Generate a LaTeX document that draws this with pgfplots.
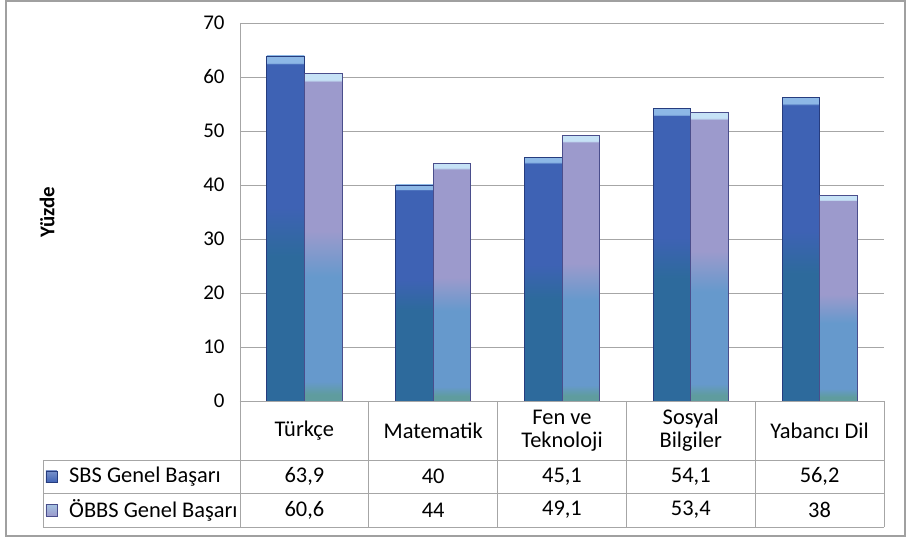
\documentclass[border=0pt]{standalone}
\usepackage{pgfplots}
\pgfplotsset{compat=1.18}
\usepackage{fontspec}
\setmainfont{Carlito}
\definecolor{gridc}{HTML}{A6A6A6}
\definecolor{framec}{HTML}{A0A0A0}
\definecolor{sbstop}{HTML}{3E62B4}
\definecolor{sbsbot}{HTML}{2D6A9C}
\definecolor{sbslight}{HTML}{8DB8E6}
\definecolor{sbsedge}{HTML}{263C7E}
\definecolor{obtop}{HTML}{9C9ACC}
\definecolor{obbot}{HTML}{6699CC}
\definecolor{obteal}{HTML}{5F9C9E}
\definecolor{oblight}{HTML}{C6E2F6}
\definecolor{obedge}{HTML}{4A4E8C}
\pgfdeclareverticalshading{sbsshade}{100bp}{color(0bp)=(sbsbot); color(25bp)=(sbsbot); color(46bp)=(sbsbot); color(53bp)=(sbstop); color(73.8bp)=(sbstop); color(74bp)=(sbslight); color(75bp)=(sbslight); color(100bp)=(sbslight)}
\pgfdeclareverticalshading{obshade}{100bp}{color(0bp)=(obteal); color(25bp)=(obteal); color(26bp)=(obteal); color(28bp)=(obbot); color(44bp)=(obbot); color(51bp)=(obtop); color(73.8bp)=(obtop); color(74bp)=(oblight); color(75bp)=(oblight); color(100bp)=(oblight)}
\pgfplotsset{
  sbsbar/.style={ybar, bar width=37.5bp, bar shift=-18.75bp, draw=sbsedge, line width=0.8bp, shading=sbsshade},
  obbar/.style={ybar, bar width=37.5bp, bar shift=18.75bp, draw=obedge, line width=0.8bp, shading=obshade},
}
\begin{document}
\begin{tikzpicture}
\begin{axis}[
  scale only axis, width=644bp, height=378bp,
  xmin=-0.5, xmax=4.5, ymin=0, ymax=70,
  ytick={0,10,...,70},
  ymajorgrids, grid style={gridc, line width=0.9bp},
  axis line style={draw=none},
  major tick length=0pt,
  /pgf/number format/assume math mode=true,
  xtick={0,...,4},
  xticklabels={Türkçe, Matematik, {Fen ve\\Teknoloji}, {Sosyal\\Bilgiler}, Yabancı Dil},
  xticklabel style={anchor=center, yshift=-29.5bp, align=center, font=\fontsize{22.5}{23}\selectfont},
  yticklabel style={font=\fontsize{21}{23}\selectfont, xshift=-12bp},
  ylabel={\bfseries Yüzde},
  ylabel style={at={(axis description cs:-0.2997,0.5)}, anchor=center, font=\fontsize{21}{23}\selectfont},
  clip=false,
]
% SBS Genel Başarı
\addplot[sbsbar] coordinates {(0,63.9)};
\addplot[sbsbar] coordinates {(1,40)};
\addplot[sbsbar] coordinates {(2,45.1)};
\addplot[sbsbar] coordinates {(3,54.1)};
\addplot[sbsbar] coordinates {(4,56.2)};
% ÖBBS Genel Başarı
\addplot[obbar] coordinates {(0,60.6)};
\addplot[obbar] coordinates {(1,44)};
\addplot[obbar] coordinates {(2,49.1)};
\addplot[obbar] coordinates {(3,53.4)};
\addplot[obbar] coordinates {(4,38)};
\coordinate (O) at (axis cs:-0.5,0);
\end{axis}
\begin{scope}[shift={(O)}, x=1bp, y=-1bp, xshift=-240bp, yshift=401bp]
  \path (0,0) rectangle (907,538);
  \draw[framec, line width=1.5bp] (6,1) rectangle (905,536);
  \draw[gridc, line width=0.9bp] (240,23) -- (240,401);
  \begin{scope}[gridc, line width=0.9bp]
    \draw (240,401) -- (884,401);
    \draw (43,460) -- (884,460);
    \draw (43,493) -- (884,493);
    \draw (43,527) -- (884,527);
    \draw (43,460) -- (43,527);
    \foreach \x in {240,368.8,497.6,626.4,755.2,884} \draw (\x,401) -- (\x,527);
  \end{scope}
  \begin{scope}[font=\fontsize{22.5}{23}\selectfont]
    \node at (304.4,476.5) {63,9};
    \node at (433.2,476.5) {40};
    \node at (562.0,476.5) {45,1};
    \node at (690.8,476.5) {54,1};
    \node at (819.6,476.5) {56,2};
    \node at (304.4,510) {60,6};
    \node at (433.2,510) {44};
    \node at (562.0,510) {49,1};
    \node at (690.8,510) {53,4};
    \node at (819.6,510) {38};
    \node[anchor=west, inner sep=0pt] at (69,476.5) {SBS Genel Başarı};
    \node[anchor=west, inner sep=0pt] at (69,510) {ÖBBS Genel Başarı};
  \end{scope}
  \draw[sbsedge, top color=sbstop!70!white, bottom color=sbstop, line width=0.6bp] (46,471) rectangle (57,482.5);
  \draw[obedge, top color=obbot!60!white, bottom color=obtop, line width=0.6bp] (46,504.5) rectangle (57,516);
\end{scope}
\end{tikzpicture}
\end{document}
